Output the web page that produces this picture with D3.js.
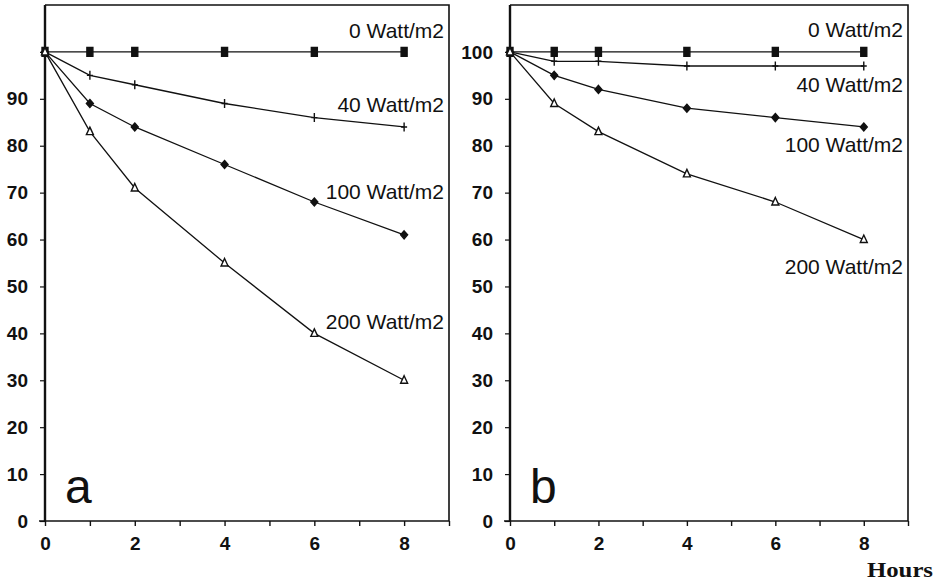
<!DOCTYPE html>
<html>
<head>
<meta charset="utf-8">
<script src="https://cdn.jsdelivr.net/npm/d3@7/dist/d3.min.js"></script>
<style>
  body { margin: 0; background: #fff; }
  svg { display: block; }
  .tick text { font-family: "Liberation Sans", Arial, sans-serif; font-weight: bold; font-size: 19px; fill: #111; }
  .series-label { font-family: "Liberation Sans", Arial, sans-serif; font-size: 21px; fill: #111; }
  .panel-letter { font-family: "Liberation Sans", Arial, sans-serif; font-size: 48px; fill: #111; }
  .x-title { font-family: "Liberation Serif", "DejaVu Serif", serif; font-weight: bold; font-size: 21px; fill: #111; }
</style>
</head>
<body>
<div id="root"></div>
<script>
// hours at which samples were taken
var hours = [0, 1, 2, 4, 6, 8];

// panel a
var a0 = [100, 100, 100, 100, 100, 100];
var a40 = [100, 95, 93, 89, 86, 84];
var a100 = [100, 89, 84, 76, 68, 61];
var a200 = [100, 83, 71, 55, 40, 30];

// panel b
var b0 = [100, 100, 100, 100, 100, 100];
var b40 = [100, 98, 98, 97, 97, 97];
var b100 = [100, 95, 92, 88, 86, 84];
var b200 = [100, 89, 83, 74, 68, 60];

var seriesNames = ["0 Watt/m2", "40 Watt/m2", "100 Watt/m2", "200 Watt/m2"];
var markerTypes = ["square", "plus", "diamond", "triangle"];

// where the labels sit, in data units (y value)
var labelYa = [104.5, 88.8, 70.2, 42.5];
var labelYb = [104.8, 93.1, 80.2, 54.2];

var yTicks = [0, 10, 20, 30, 40, 50, 60, 70, 80, 90, 100];
var xTicks = [0, 1, 2, 3, 4, 5, 6, 7, 8, 9];
var xLabelTicks = [0, 2, 4, 6, 8];

var panels = [
    { letter: "a", series: [a0, a40, a100, a200], labelY: labelYa, showTop: false, left: 45, right: 449 },
    { letter: "b", series: [b0, b40, b100, b200], labelY: labelYb, showTop: true, left: 510, right: 908 }
];

var width = 942, height = 583,
    plotTop = 5, plotBottom = 521;

var svg = d3.select("#root").append("svg")
    .attr("width", width)
    .attr("height", height);

// marker shapes, centred on 0,0
function markerPath(type) {
    switch (type) {
        case "square": return "M-3,-4.5H3V4.5H-3Z";
        case "plus": return "M0,-4.5V4.5M-3,0H3";
        case "diamond": return "M0,-4L3.5,0L0,4L-3.5,0Z";
        case "triangle": return "M0,-4.5L3.5,3L-3.5,3Z";
    }
}

panels.forEach(function (p) {
    var x = d3.scaleLinear().domain([0, 9]).range([p.left, p.right]);
    var y = d3.scaleLinear().domain([0, 110]).range([plotBottom, plotTop]);

    var g = svg.append("g");

    // frame (top, right)
    g.append("path")
        .attr("d", "M" + p.left + "," + y(110) + "H" + p.right + "V" + plotBottom)
        .attr("fill", "none")
        .attr("stroke", "#111")
        .attr("stroke-width", 1.6);

    // y axis
    var yAxis = d3.axisLeft(y)
        .tickValues(yTicks)
        .tickSize(5)
        .tickPadding(12)
        .tickFormat(function (v) { return (v === 100 && !p.showTop) ? "" : v; });

    var yg = g.append("g")
        .attr("transform", "translate(" + p.left + ",0)")
        .call(yAxis);
    yg.select(".domain").attr("d", "M0," + plotBottom + "V" + y(110)).attr("stroke-width", 2.4).attr("stroke", "#111");
    yg.selectAll(".tick line").attr("stroke", "#111").attr("stroke-width", 1.2);

    // x axis
    var xAxis = d3.axisBottom(x)
        .tickValues(xTicks)
        .tickSize(5)
        .tickPadding(11)
        .tickFormat(function (v) { return xLabelTicks.indexOf(v) >= 0 ? v : ""; });

    var xg = g.append("g")
        .attr("transform", "translate(0," + plotBottom + ")")
        .call(xAxis);
    xg.select(".domain").attr("d", "M" + (p.left - 6) + ",0H" + p.right).attr("stroke-width", 1.6).attr("stroke", "#111");
    xg.selectAll(".tick line").attr("stroke", "#111").attr("stroke-width", 1.4);

    var line = d3.line()
        .x(function (d, i) { return x(hours[i]); })
        .y(function (d) { return y(d); });

    p.series.forEach(function (vals, si) {
        g.append("path")
            .datum(vals)
            .attr("d", line)
            .attr("fill", "none")
            .attr("stroke", "#111")
            .attr("stroke-width", 1.3);

        var filled = markerTypes[si] !== "triangle";
        g.selectAll(".m" + si)
            .data(vals)
            .enter()
            .append("path")
            .attr("transform", function (d, i) { return "translate(" + x(hours[i]) + "," + y(d) + ")"; })
            .attr("d", markerPath(markerTypes[si]))
            .attr("fill", filled ? "#111" : "#fff")
            .attr("stroke", "#111")
            .attr("stroke-width", 1.4);

        g.append("text")
            .classed("series-label", true)
            .attr("x", p.right - 5)
            .attr("y", y(p.labelY[si]))
            .attr("dy", "0.35em")
            .attr("text-anchor", "end")
            .text(seriesNames[si]);
    });

    g.append("text")
        .classed("panel-letter", true)
        .attr("x", p.left + 20)
        .attr("y", plotBottom - 18)
        .text(p.letter);
});

svg.append("text")
    .classed("x-title", true)
    .attr("x", 867)
    .attr("y", 577)
    .attr("textLength", 66)
    .attr("lengthAdjust", "spacingAndGlyphs")
    .text("Hours");
</script>
</body>
</html>
